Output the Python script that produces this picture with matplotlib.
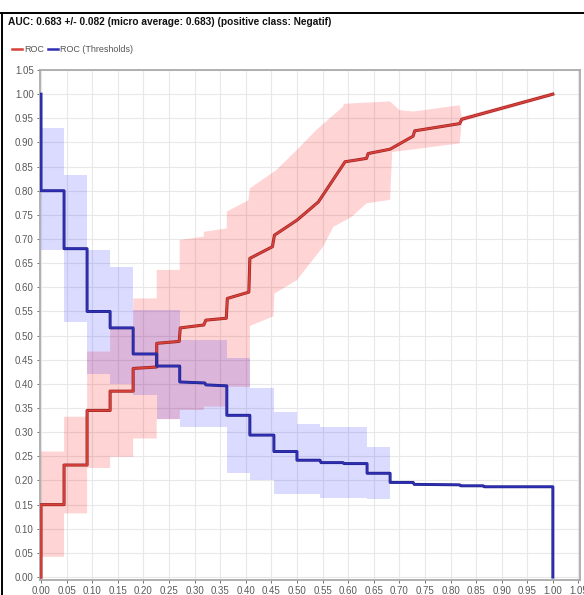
import matplotlib
matplotlib.use("Agg")
import matplotlib.pyplot as plt
import matplotlib.patheffects as pe
from matplotlib.lines import Line2D
import numpy as np

# ROC curve (mean over folds) as step vertices
roc_fpr = [0.0, 0.0, 0.045, 0.045, 0.09, 0.09, 0.135, 0.135, 0.18, 0.18, 0.226, 0.226,
           0.270, 0.272, 0.318, 0.322, 0.362, 0.364, 0.406, 0.408, 0.452, 0.456, 0.500,
           0.542, 0.594, 0.636, 0.639, 0.682, 0.727, 0.730, 0.818, 0.822, 1.0]
roc_tpr = [0.0, 0.15, 0.15, 0.232, 0.232, 0.345, 0.345, 0.385, 0.385, 0.432, 0.435, 0.484,
           0.488, 0.516, 0.522, 0.532, 0.536, 0.577, 0.590, 0.660, 0.684, 0.708, 0.739,
           0.777, 0.860, 0.867, 0.877, 0.886, 0.913, 0.924, 0.939, 0.948, 1.0]

# ROC band (+/- std)
roc_hi_fpr = [0.0, 0.045, 0.045, 0.09, 0.09, 0.135, 0.135, 0.18, 0.18, 0.226, 0.226, 0.271,
              0.271, 0.318, 0.318, 0.363, 0.363, 0.405, 0.408, 0.460, 0.506, 0.538, 0.590,
              0.592, 0.682, 0.700, 0.727, 0.818, 0.822, 1.0]
roc_hi = [0.26, 0.26, 0.332, 0.332, 0.467, 0.467, 0.516, 0.516, 0.577, 0.577, 0.636, 0.636,
          0.698, 0.705, 0.715, 0.722, 0.757, 0.780, 0.805, 0.843, 0.891, 0.926, 0.974,
          0.980, 0.985, 0.967, 0.964, 0.977, 0.953, 1.004]
roc_lo_fpr = [0.0, 0.045, 0.045, 0.09, 0.09, 0.135, 0.135, 0.18, 0.18, 0.226, 0.226, 0.271,
              0.271, 0.318, 0.318, 0.363, 0.363, 0.408, 0.408, 0.454, 0.456, 0.500, 0.551,
              0.571, 0.607, 0.636, 0.682, 0.686, 0.818, 0.822, 1.0]
roc_lo = [0.042, 0.042, 0.132, 0.132, 0.226, 0.226, 0.249, 0.249, 0.287, 0.287, 0.327, 0.327,
          0.346, 0.346, 0.353, 0.353, 0.394, 0.394, 0.520, 0.540, 0.587, 0.615, 0.684,
          0.725, 0.746, 0.774, 0.781, 0.880, 0.898, 0.943, 0.996]

# ROC (Thresholds) curve
thr_fpr = [0.0, 0.0, 0.045, 0.045, 0.09, 0.09, 0.135, 0.135, 0.18, 0.18, 0.226, 0.226,
           0.271, 0.271, 0.320, 0.322, 0.363, 0.363, 0.408, 0.408, 0.455, 0.455, 0.500,
           0.500, 0.545, 0.547, 0.590, 0.592, 0.637, 0.637, 0.682, 0.682, 0.727, 0.729,
           0.818, 0.820, 0.864, 0.866, 1.0, 1.0]
thr_val = [1.0, 0.80, 0.80, 0.68, 0.68, 0.55, 0.55, 0.516, 0.516, 0.462, 0.462, 0.437,
           0.437, 0.404, 0.402, 0.398, 0.396, 0.335, 0.335, 0.294, 0.294, 0.260, 0.260,
           0.242, 0.242, 0.237, 0.237, 0.235, 0.235, 0.215, 0.215, 0.196, 0.196, 0.192,
           0.191, 0.189, 0.189, 0.187, 0.187, 0.0]

# Thresholds band, constant per step
thr_band_x = [0.0, 0.045, 0.09, 0.135, 0.18, 0.226, 0.271, 0.363, 0.408, 0.455, 0.500,
              0.545, 0.637, 0.682]
thr_hi = [0.929, 0.832, 0.677, 0.643, 0.553, 0.553, 0.491, 0.453, 0.391, 0.342, 0.318,
          0.311, 0.270]
thr_lo = [0.677, 0.529, 0.420, 0.400, 0.377, 0.327, 0.311, 0.215, 0.200, 0.173, 0.173,
          0.163, 0.161]

ticks = np.round(np.arange(0, 1.0501, 0.05), 2)
tick_labels = [f"{t:.2f}" for t in ticks]

W, H = 584, 595
fig = plt.figure(figsize=(W / 100, H / 100), dpi=100)
fig.patch.set_facecolor("white")

ax = fig.add_axes([40 / W, 1 - 579.5 / H, 540 / W, 509.5 / H])
ax.set_xlim(-0.002, 1.053)
ax.set_ylim(-0.005, 1.05)

ax.fill(roc_hi_fpr + roc_lo_fpr[::-1], roc_hi + roc_lo[::-1],
        facecolor=(1.0, 0.0, 0.0, 0.17), edgecolor="none", zorder=1)
ax.fill_between(thr_band_x, thr_hi + [thr_hi[-1]], thr_lo + [thr_lo[-1]], step="post",
                facecolor=(0.0, 0.0, 1.0, 0.14), edgecolor="none", zorder=2)

ax.plot(roc_fpr, roc_tpr, color="#d8403a", lw=1.3, zorder=4,
        path_effects=[pe.Stroke(linewidth=2.2, foreground="#9a2222"), pe.Normal()])
ax.plot(thr_fpr, thr_val, color="#2f2fb4", lw=1.3, zorder=4,
        path_effects=[pe.Stroke(linewidth=2.1, foreground="#1d1d86"), pe.Normal()])

ax.set_xticks(ticks)
ax.set_xticklabels(tick_labels)
ax.set_yticks(ticks)
ax.set_yticklabels(tick_labels)
ax.tick_params(labelsize=7, colors="#5a5a5a", length=2.5, width=0.6, pad=2,
               labelfontfamily="Liberation Sans")
ax.grid(True, color="#e8e8e8", lw=0.8, zorder=0)
ax.set_axisbelow(True)
for sp in ax.spines.values():
    sp.set_color("#aaaaaa")
    sp.set_linewidth(1.3)

fig.text(8 / W, 1 - 22 / H,
         "AUC: 0.683 +/- 0.082 (micro average: 0.683) (positive class: Negatif)",
         fontsize=7.3, fontweight="bold", color="#111111", va="center", ha="left",
         family="Liberation Sans")

handles = [Line2D([], [], color="#d8403a", lw=1.8),
           Line2D([], [], color="#2f2fb4", lw=1.8)]
fig.legend(handles, ["ROC", "ROC (Thresholds)"], loc="center left",
           bbox_to_anchor=(4 / W, 1 - 50 / H), ncol=2, frameon=False,
           handlelength=1.1, handletextpad=0.25, columnspacing=0.4,
           prop={"family": "Liberation Sans", "size": 6.5}, labelcolor="#555555")

# screen frame lines
fig.add_artist(Line2D([0, 1], [1 - 12.5 / H, 1 - 12.5 / H], color="black", lw=1.4,
                      transform=fig.transFigure))
fig.add_artist(Line2D([1.5 / W, 1.5 / W], [0, 1 - 12.5 / H], color="black", lw=1.4,
                      transform=fig.transFigure))

fig.savefig("out.png", dpi=100)
